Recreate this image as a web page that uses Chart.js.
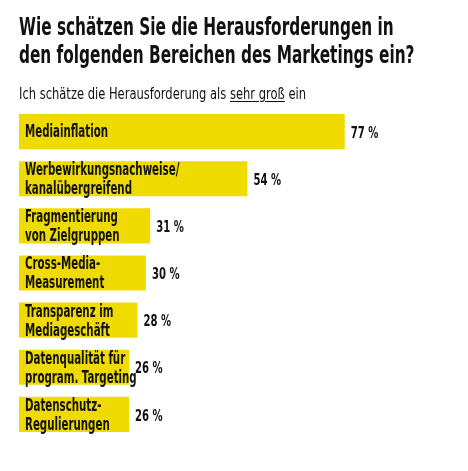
<!DOCTYPE html>
<html>
<head>
<meta charset="utf-8">
<script src="https://cdn.jsdelivr.net/npm/chart.js@4"></script>
<style>
  html, body { margin: 0; padding: 0; background: #fff; }
  #wrap { position: relative; width: 468px; height: 471px; overflow: hidden; }
  #chart { position: absolute; left: 0; top: 0; }
  .t { position: absolute; left: 19px; color: #111; white-space: nowrap;
       font-family: "Liberation Sans Narrow", "DejaVu Sans Condensed", "Roboto Condensed", sans-serif;
       transform-origin: 0 0; }
  #title { top: 13px; font-size: 24px; font-weight: bold; line-height: 28px; transform: scaleX(0.71); }
  #sub { top: 84px; font-size: 16px; transform: scaleX(0.80); }
  #sub u { text-underline-offset: 2px; }
</style>
</head>
<body>
<div id="wrap">
  <canvas id="chart" width="468" height="471"></canvas>
  <div class="t" id="title">Wie schätzen Sie die Herausforderungen in<br>den folgenden Bereichen des Marketings ein?</div>
  <div class="t" id="sub">Ich schätze die Herausforderung als <u>sehr groß</u> ein</div>
</div>
<script>
// Herausforderungen, Anteil "sehr groß" in Prozent
const categories = [
    ['Mediainflation'],
    ['Werbewirkungsnachweise/', 'kanalübergreifend'],
    ['Fragmentierung', 'von Zielgruppen'],
    ['Cross-Media-', 'Measurement'],
    ['Transparenz im', 'Mediageschäft'],
    ['Datenqualität für', 'program. Targeting'],
    ['Datenschutz-', 'Regulierungen']
];
const values = [77, 54, 31, 30, 28, 26, 26];

const FONT = '"Liberation Sans Narrow", "DejaVu Sans Condensed", sans-serif';

// labels inside the bars and values behind them
const barText = {
    id: 'barText',
    afterDatasetsDraw(chart) {
        const ctx = chart.ctx;
        const meta = chart.getDatasetMeta(0);
        ctx.save();
        ctx.fillStyle = '#111';
        ctx.textBaseline = 'middle';
        meta.data.forEach((bar, i) => {
            const lines = categories[i];
            const y = bar.y;
            ctx.font = 'bold 17px ' + FONT;
            const offs = lines.length === 1 ? [1] : [-8, 11];
            lines.forEach((line, k) => {
                ctx.save();
                ctx.translate(bar.base + 6, y + offs[k]);
                ctx.scale(0.67, 1);
                ctx.fillText(line, 0, 0);
                ctx.restore();
            });
            ctx.font = 'bold 16px ' + FONT;
            ctx.save();
            ctx.translate(bar.x + 6, y + 2);
            ctx.scale(0.70, 1);
            ctx.fillText(values[i] + ' %', 0, 0);
            ctx.restore();
        });
        ctx.restore();
    }
};

new Chart(document.getElementById('chart'), {
    type: 'bar',
    data: {
        labels: categories,
        datasets: [{
            data: values,
            backgroundColor: '#f0db00',
            borderWidth: 0,
            barPercentage: 0.745,
            categoryPercentage: 1
        }]
    },
    options: {
        indexAxis: 'y',
        responsive: false,
        animation: false,
        events: [],
        layout: { padding: { left: 19, right: 26, top: 108, bottom: 33 } },
        plugins: { legend: { display: false }, tooltip: { enabled: false } },
        scales: {
            x: { display: false, min: 0, max: 100 },
            y: { display: false }
        }
    },
    plugins: [barText]
});
</script>
</body>
</html>
